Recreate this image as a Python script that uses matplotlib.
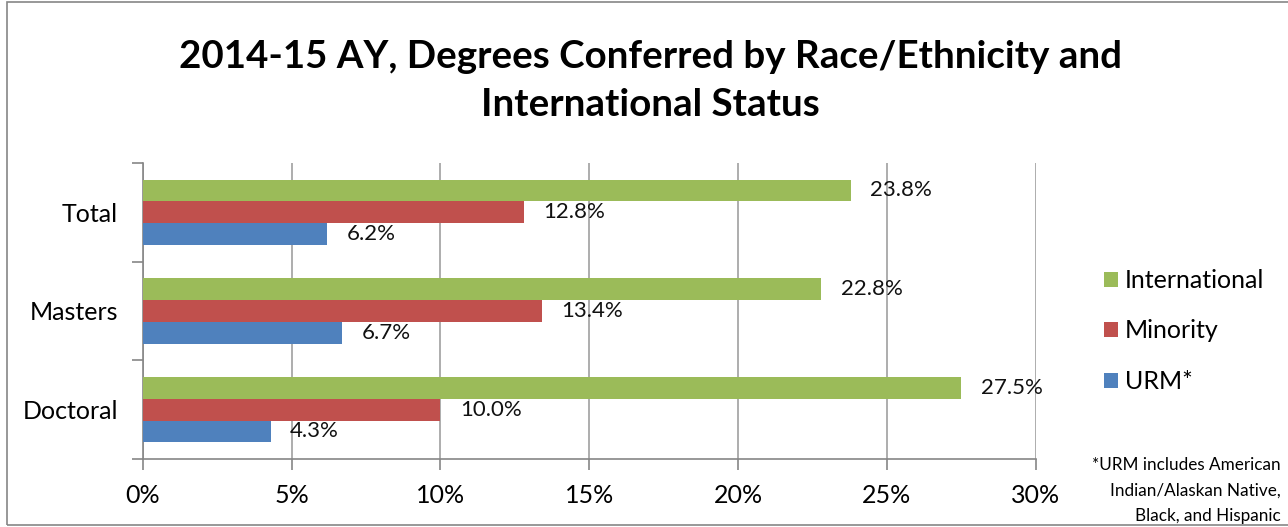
import numpy as np
import matplotlib.pyplot as plt
from matplotlib.patches import Rectangle

# data
categories = ["Doctoral", "Masters", "Total"]
international = [27.5, 22.8, 23.8]
minority = [10.0, 13.4, 12.8]
urm = [4.3, 6.7, 6.2]
series_names = ["International", "Minority", "URM*"]
colors = ["#9bbb59", "#c0504d", "#4f81bd"]
xticks = [0, 5, 10, 15, 20, 25, 30]

plt.rcParams['font.family'] = ['Lato', 'DejaVu Sans']

fig = plt.figure(figsize=(12.88, 5.27), dpi=100)
ax = fig.add_axes([0.111, 0.129, 0.693, 0.562])

y = np.arange(len(categories))
h = 0.22
series = [international, minority, urm]
offsets = [h, 0, -h]
for vals, off, col, name in zip(series, offsets, colors, series_names):
    bars = ax.barh(y + off, vals, height=h, color=col, label=name, zorder=3)
    for b, v in zip(bars, vals):
        ax.text(v + 0.65, b.get_y() + h / 2, f"{v:.1f}%", va="center", ha="left",
                fontsize=16, color="#111111", zorder=4)

ax.set_xlim(0, 30)
ax.set_ylim(-0.5, 2.5)
ax.set_xticks(xticks)
ax.set_xticklabels([f"{t}%" for t in xticks], fontsize=18)
ax.set_yticks(y)
ax.set_yticklabels(categories, fontsize=18)
ax.set_yticks(np.arange(-0.5, 3.0, 1.0), minor=True)
ax.tick_params(axis="y", which="major", length=0, pad=18)
ax.tick_params(axis="y", which="minor", length=8, color="#868686", width=1.2)
ax.tick_params(axis="x", length=8, color="#868686", width=1.2, pad=10)
ax.grid(axis="x", color="#a0a0a0", linewidth=1.2, zorder=0)
for s in ["top", "right"]:
    ax.spines[s].set_visible(False)
for s in ["left", "bottom"]:
    ax.spines[s].set_color("#868686")
    ax.spines[s].set_linewidth(1.2)

handles, labels = ax.get_legend_handles_labels()
fig.legend(handles, labels, loc="center left", bbox_to_anchor=(0.8395, 0.372),
           frameon=False, fontsize=18, handlelength=0.55, handleheight=0.55,
           handletextpad=0.3, labelspacing=1.1)

fig.text(0.505, 0.846, "2014-15 AY, Degrees Conferred by Race/Ethnicity and\nInternational Status",
         ha="center", va="center", fontsize=27.7, fontweight="bold", linespacing=1.52)

fig.text(0.994, 0.005, "*URM includes American\nIndian/Alaskan Native,\nBlack, and Hispanic",
         ha="right", va="bottom", fontsize=12.3, linespacing=1.75)

fig.patches.append(Rectangle((7 / 1288, 2 / 527), 1.05, 1 - 4 / 527, transform=fig.transFigure,
                             fill=False, edgecolor="#868686", linewidth=1.2))

fig.savefig("out.png", dpi=100)
